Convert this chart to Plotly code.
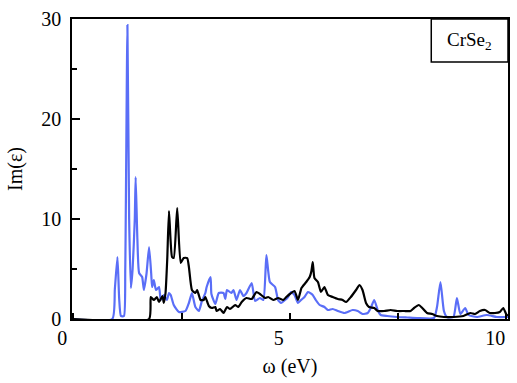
import plotly.graph_objects as go

# Blue curve (omega in eV, Im(eps))
blue_x = [0.00, 0.90, 0.96, 1.02, 1.06, 1.10, 1.17, 1.20, 1.25, 1.29, 1.33, 1.37, 1.42, 1.44, 1.48,
          1.52, 1.59, 1.63, 1.69, 1.75, 1.80, 1.82, 1.86, 1.91, 1.98, 2.02, 2.09, 2.16, 2.21, 2.25,
          2.32, 2.44, 2.59, 2.67, 2.74, 2.82, 2.90, 2.97, 3.05, 3.08, 3.17, 3.19, 3.28, 3.36, 3.47,
          3.51, 3.55, 3.65, 3.70, 3.77, 3.85, 3.93, 4.00, 4.12, 4.20, 4.31, 4.39, 4.46, 4.54, 4.66,
          4.73, 4.80, 4.89, 4.96, 5.03, 5.11, 5.19, 5.26, 5.34, 5.42, 5.53, 5.60, 5.69, 5.80, 5.88,
          5.99, 6.11, 6.26, 6.45, 6.57, 6.68, 6.80, 6.87, 6.95, 7.03, 7.10, 7.25, 7.48, 7.71, 7.94,
          8.33, 8.40, 8.48, 8.56, 8.63, 8.78, 8.86, 8.94, 9.05, 9.13, 9.32, 9.55, 9.78, 10.04]
blue_y = [0.0, 0.0, 3.0, 6.2, 2.0, 0.3, 0.3, 5.0, 29.4, 10.0, 3.1, 5.0, 10.0, 14.2, 8.0,
          4.6, 4.2, 2.9, 4.5, 7.2, 4.5, 3.2, 3.9, 2.9, 3.2, 1.9, 2.4, 1.9, 2.6, 2.4,
          1.4, 0.7, 0.8, 1.6, 2.6, 1.2, 0.8, 1.8, 2.6, 3.2, 4.2, 2.5, 1.5, 2.6, 2.6,
          2.0, 2.9, 2.6, 2.9, 1.9, 2.9, 2.3, 2.6, 3.6, 1.8, 2.1, 1.9, 6.4, 3.7, 3.2,
          1.9, 1.6, 1.9, 2.2, 2.7, 2.4, 1.6, 1.9, 2.2, 2.7, 2.4, 1.9, 1.4, 1.2, 0.9,
          1.0, 0.8, 0.6, 0.9, 0.8, 0.5, 0.6, 1.1, 1.9, 0.9, 0.4, 0.3, 0.2, 0.15, 0.1,
          0.1, 1.2, 3.7, 0.8, 0.2, 0.2, 2.1, 0.5, 1.1, 0.4, 0.2, 0.4, 0.2, 0.2]

# Black curve
black_x = [0.00, 1.75, 1.79, 1.86, 1.93, 1.98, 2.06, 2.09, 2.13, 2.17, 2.21, 2.28, 2.32, 2.40, 2.48,
           2.55, 2.63, 2.67, 2.74, 2.82, 2.86, 2.94, 3.01, 3.05, 3.13, 3.20, 3.28, 3.31, 3.39, 3.47,
           3.55, 3.62, 3.74, 3.81, 3.89, 4.00, 4.12, 4.23, 4.31, 4.43, 4.50, 4.62, 4.73, 4.85, 4.92,
           5.00, 5.11, 5.19, 5.27, 5.38, 5.46, 5.50, 5.53, 5.57, 5.65, 5.72, 5.80, 5.88, 5.99, 6.11,
           6.22, 6.30, 6.41, 6.53, 6.61, 6.68, 6.76, 6.83, 6.95, 7.03, 7.18, 7.33, 7.48, 7.64, 7.79,
           7.87, 7.98, 8.06, 8.17, 8.29, 8.40, 8.56, 8.78, 9.01, 9.17, 9.28, 9.39, 9.51, 9.62, 9.74,
           9.85, 9.93, 10.01, 10.04]
black_y = [0.0, 0.0, 2.2, 1.9, 2.2, 1.7, 2.3, 1.6, 2.6, 6.0, 10.8, 6.2, 6.1, 11.1, 5.6,
           6.1, 6.1, 5.2, 2.9, 2.6, 2.9, 1.9, 1.9, 2.2, 1.3, 1.1, 1.2, 0.8, 1.0, 0.6,
           1.2, 1.0, 1.4, 1.2, 1.7, 2.1, 2.0, 2.7, 2.5, 2.1, 2.2, 1.9, 2.1, 1.9, 2.2,
           2.5, 2.8, 1.9, 3.1, 3.7, 4.2, 4.8, 5.7, 4.1, 3.7, 2.7, 3.2, 2.4, 2.2, 2.0,
           1.9, 1.7, 2.2, 2.9, 3.4, 2.9, 1.6, 1.2, 1.1, 0.8, 0.8, 0.9, 0.8, 0.8, 0.8,
           1.1, 1.4, 1.1, 0.6, 0.5, 0.3, 0.2, 0.2, 0.3, 0.6, 0.5, 0.8, 0.9, 0.6, 0.6,
           0.7, 1.1, 0.4, 0.4]

label_text = "CrSe<sub>2</sub>"
x_title = "ω (eV)"
y_title = "Im(ε)"

FONT = "Liberation Serif"

fig = go.Figure()
fig.add_trace(go.Scatter(x=blue_x, y=blue_y, mode="lines",
                         line=dict(color="#5a6ef7", width=2.2, shape="spline", smoothing=0.5),
                         showlegend=False))
fig.add_trace(go.Scatter(x=black_x, y=black_y, mode="lines",
                         line=dict(color="black", width=2.2, shape="spline", smoothing=0.5),
                         showlegend=False))

fig.update_layout(
    width=517, height=383,
    margin=dict(l=72, r=7, t=19, b=64),
    paper_bgcolor="white", plot_bgcolor="white",
    font=dict(family=FONT, size=20, color="black"),
    xaxis=dict(range=[-0.03, 10.04], tickvals=[0, 5, 10], ticktext=["0", "5", "10"],
               ticks="inside", ticklen=6, tickwidth=1.5, tickcolor="black",
               minor=dict(tickvals=[2.5, 7.5], ticks="inside", ticklen=6, tickwidth=1.5, tickcolor="black"),
               showline=True, linecolor="black", linewidth=2, mirror=True,
               showgrid=False, zeroline=False, ticklabelshift=-11,
               title=dict(text=x_title, font=dict(size=20), standoff=11)),
    yaxis=dict(range=[0, 30], tickvals=[0, 10, 20, 30],
               ticks="inside", ticklen=8, tickwidth=1.5, tickcolor="black",
               minor=dict(tickvals=[5, 15, 25], ticks="inside", ticklen=5, tickwidth=1.5, tickcolor="black"),
               showline=True, linecolor="black", linewidth=1.5, mirror=True,
               showgrid=False, zeroline=False, ticklabelstandoff=5,
               title=dict(text=y_title, font=dict(size=20), standoff=13)),
)

fig.add_shape(type="rect", xref="paper", yref="paper", x0=0.824, x1=1.0, y0=0.857, y1=1.0,
              line=dict(color="black", width=1.5), fillcolor="white", layer="above")
fig.add_annotation(xref="paper", yref="paper", x=0.912, y=0.928, text=label_text,
                   showarrow=False, font=dict(family=FONT, size=19, color="black"),
                   xanchor="center", yanchor="middle")

fig.write_html("out.html")
